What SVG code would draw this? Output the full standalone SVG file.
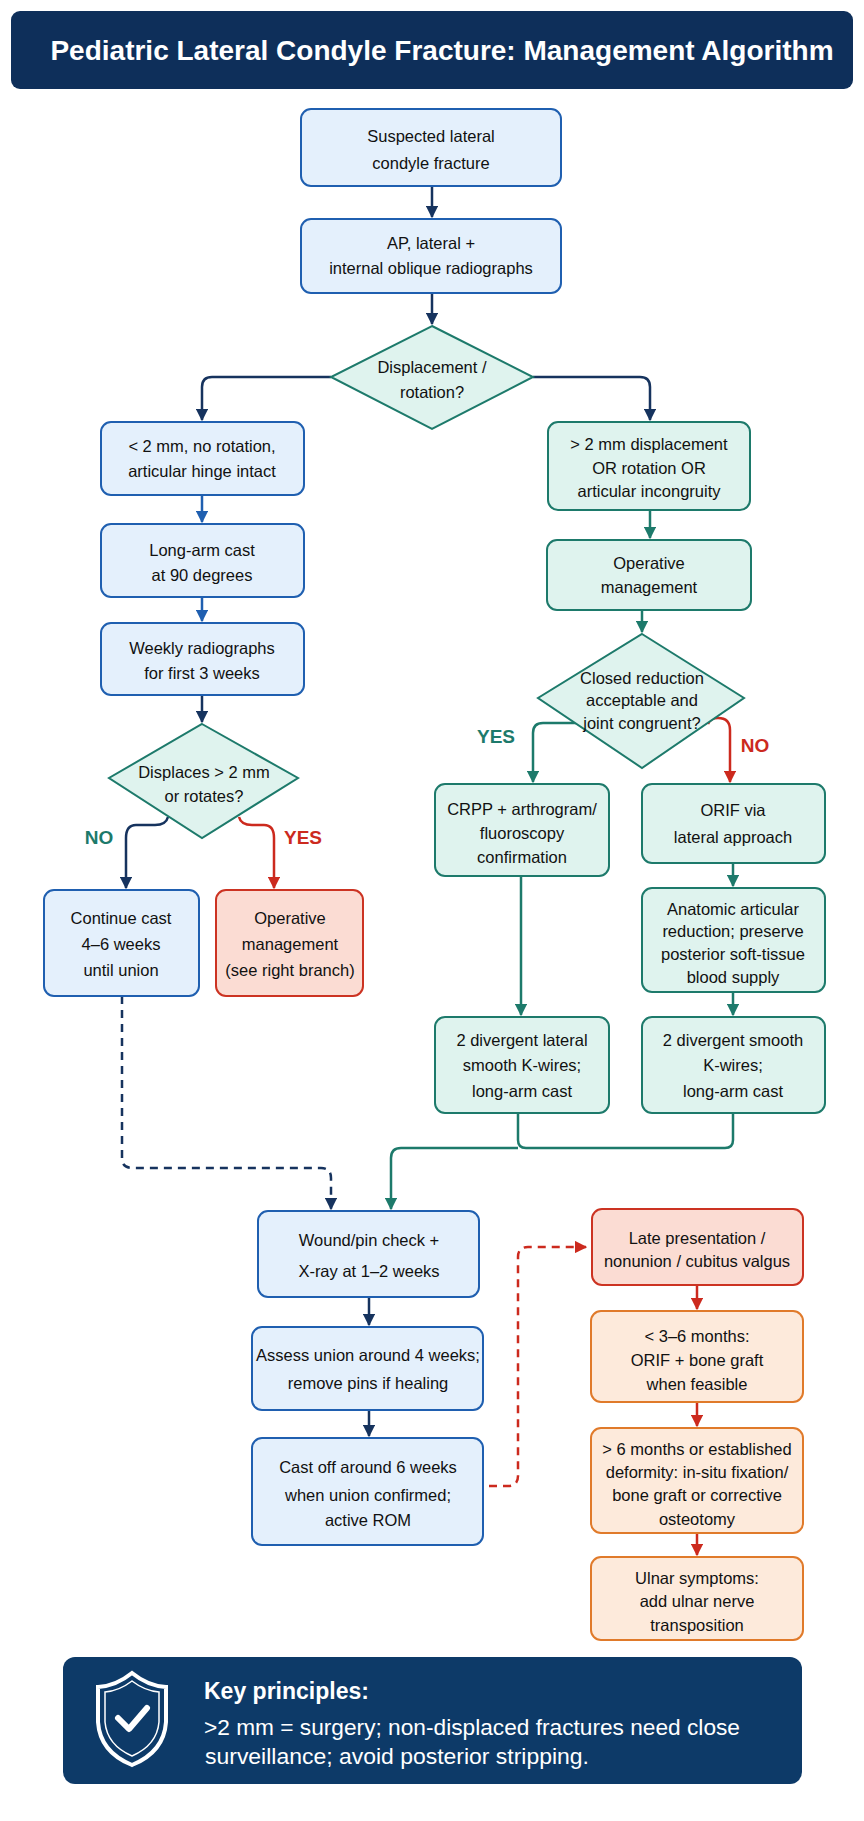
<svg xmlns="http://www.w3.org/2000/svg" width="864" height="1821" viewBox="0 0 864 1821">
<defs>
<style>
text{font-family:"Liberation Sans",Arial,sans-serif;font-size:16.5px;fill:#111;text-anchor:middle;dominant-baseline:central}
.b{fill:#e4f0fc;stroke:#1f5fb0;stroke-width:2}
.t{fill:#dff3ee;stroke:#1d7a6b;stroke-width:2}
.r{fill:#fbdcd3;stroke:#cc3322;stroke-width:2}
.o{fill:#fdeadb;stroke:#e07a2a;stroke-width:2}
.c{fill:none;stroke-width:2.5}
.nv{stroke:#16335e}.bl{stroke:#1f5fb0}.tl{stroke:#1d7a6b}.rd{stroke:#cc2a1e}
.lbl{font-weight:bold;font-size:19px}
</style>
<marker id="an" viewBox="0 0 10 10" refX="9" refY="5" markerWidth="5" markerHeight="5" orient="auto"><path d="M0,0L10,5L0,10z" fill="#16335e"/></marker>
<marker id="ab" viewBox="0 0 10 10" refX="9" refY="5" markerWidth="5" markerHeight="5" orient="auto"><path d="M0,0L10,5L0,10z" fill="#1f5fb0"/></marker>
<marker id="at" viewBox="0 0 10 10" refX="9" refY="5" markerWidth="5" markerHeight="5" orient="auto"><path d="M0,0L10,5L0,10z" fill="#1d7a6b"/></marker>
<marker id="ar" viewBox="0 0 10 10" refX="9" refY="5" markerWidth="5" markerHeight="5" orient="auto"><path d="M0,0L10,5L0,10z" fill="#cc2a1e"/></marker>
</defs>
<rect width="864" height="1821" fill="#fff"/>
<g id="title"><rect x="11" y="11" width="842" height="78" rx="9" fill="#0e2f5a"/>
<text x="442" y="50" style="font-size:28px;font-weight:bold;fill:#fff">Pediatric Lateral Condyle Fracture: Management Algorithm</text></g>

<g id="connectors">
<path class="c nv" d="M432,186V217" marker-end="url(#an)"/>
<path class="c nv" d="M432,293V324" marker-end="url(#an)"/>
<path class="c nv" d="M331,377H212Q202,377 202,387V420" marker-end="url(#an)"/>
<path class="c nv" d="M533,377H640Q650,377 650,387V420" marker-end="url(#an)"/>
<path class="c bl" d="M202,495V522" marker-end="url(#ab)"/>
<path class="c bl" d="M202,597V621" marker-end="url(#ab)"/>
<path class="c nv" d="M202,695V722" marker-end="url(#an)"/>
<path class="c nv" d="M168,817Q166,825 155,825H136Q126,825 126,838V888" marker-end="url(#an)"/>
<path class="c rd" d="M239,817Q241,825 252,825H264Q274,825 274,838V888" marker-end="url(#ar)"/>
<path class="c tl" d="M650,510V538" marker-end="url(#at)"/>
<path class="c tl" d="M642,610V632" marker-end="url(#at)"/>
<path class="c tl" d="M576,723H543Q533,723 533,733V782" marker-end="url(#at)"/>
<path class="c rd" d="M708,724Q710,718 718,718Q730,718 730,730V782" marker-end="url(#ar)"/>
<path class="c tl" d="M521,876V1015" marker-end="url(#at)"/>
<path class="c tl" d="M733,863V886" marker-end="url(#at)"/>
<path class="c tl" d="M733,992V1015" marker-end="url(#at)"/>
<path class="c tl" d="M518,1113V1140Q518,1148 526,1148H725Q733,1148 733,1140V1113"/>
<path class="c tl" d="M518,1148H401Q391,1148 391,1158V1209" marker-end="url(#at)"/>
<path class="c nv" d="M122,996V1158Q122,1168 132,1168H321Q331,1168 331,1178V1209" stroke-dasharray="8,6" marker-end="url(#an)"/>
<path class="c nv" d="M369,1297V1325" marker-end="url(#an)"/>
<path class="c nv" d="M369,1410V1436" marker-end="url(#an)"/>
<path class="c rd" d="M489,1486H508Q518,1486 518,1476V1257Q518,1247 528,1247H586" stroke-dasharray="8,6" marker-end="url(#ar)"/>
<path class="c rd" d="M697,1285V1309" marker-end="url(#ar)"/>
<path class="c rd" d="M697,1402V1426" marker-end="url(#ar)"/>
<path class="c rd" d="M697,1533V1555" marker-end="url(#ar)"/>
</g>

<g id="n1"><rect class="b" x="301" y="109" width="260" height="77" rx="10"/><text x="431" y="136">Suspected lateral</text><text x="431" y="163">condyle fracture</text></g>
<g id="n2"><rect class="b" x="301" y="219" width="260" height="74" rx="10"/><text x="431" y="243">AP, lateral +</text><text x="431" y="268">internal oblique radiographs</text></g>
<g id="d1"><polygon class="t" points="432,326 533,377 432,429 331,377"/><text x="432" y="367">Displacement /</text><text x="432" y="392">rotation?</text></g>
<g id="l1"><rect class="b" x="101" y="422" width="203" height="73" rx="10"/><text x="202" y="446">&lt; 2 mm, no rotation,</text><text x="202" y="471">articular hinge intact</text></g>
<g id="r1"><rect class="t" x="548" y="422" width="202" height="88" rx="10"/><text x="649" y="444">&gt; 2 mm displacement</text><text x="649" y="468">OR rotation OR</text><text x="649" y="491">articular incongruity</text></g>
<g id="l2"><rect class="b" x="101" y="524" width="203" height="73" rx="10"/><text x="202" y="550">Long-arm cast</text><text x="202" y="575">at 90 degrees</text></g>
<g id="r2"><rect class="t" x="547" y="540" width="204" height="70" rx="10"/><text x="649" y="563">Operative</text><text x="649" y="587">management</text></g>
<g id="l3"><rect class="b" x="101" y="623" width="203" height="72" rx="10"/><text x="202" y="648">Weekly radiographs</text><text x="202" y="673">for first 3 weeks</text></g>
<g id="d2"><polygon class="t" points="202,724 298,778 202,838 109,778"/><text x="204" y="772">Displaces &gt; 2 mm</text><text x="204" y="796">or rotates?</text></g>
<text class="lbl" x="99" y="837" style="fill:#1d7a6b">NO</text>
<text class="lbl" x="303" y="837" style="fill:#cc2a1e">YES</text>
<g id="l4"><rect class="b" x="44" y="890" width="155" height="106" rx="10"/><text x="121" y="918">Continue cast</text><text x="121" y="944">4–6 weeks</text><text x="121" y="970">until union</text></g>
<g id="l5"><rect class="r" x="216" y="890" width="147" height="106" rx="10"/><text x="290" y="918">Operative</text><text x="290" y="944">management</text><text x="290" y="970">(see right branch)</text></g>
<g id="d3"><polygon class="t" points="642,634 744,698 642,768 538,698"/><text x="642" y="678">Closed reduction</text><text x="642" y="700">acceptable and</text><text x="642" y="723">joint congruent?</text></g>
<text class="lbl" x="496" y="736" style="fill:#1d7a6b">YES</text>
<text class="lbl" x="755" y="745" style="fill:#cc2a1e">NO</text>
<g id="r3"><rect class="t" x="435" y="784" width="174" height="92" rx="10"/><text x="522" y="809">CRPP + arthrogram/</text><text x="522" y="833">fluoroscopy</text><text x="522" y="857">confirmation</text></g>
<g id="r4"><rect class="t" x="642" y="784" width="183" height="79" rx="10"/><text x="733" y="810">ORIF via</text><text x="733" y="837">lateral approach</text></g>
<g id="r5"><rect class="t" x="642" y="888" width="183" height="104" rx="10"/><text x="733" y="909">Anatomic articular</text><text x="733" y="931">reduction; preserve</text><text x="733" y="954">posterior soft-tissue</text><text x="733" y="977">blood supply</text></g>
<g id="r6"><rect class="t" x="435" y="1017" width="174" height="96" rx="10"/><text x="522" y="1040">2 divergent lateral</text><text x="522" y="1065">smooth K-wires;</text><text x="522" y="1091">long-arm cast</text></g>
<g id="r7"><rect class="t" x="642" y="1017" width="183" height="96" rx="10"/><text x="733" y="1040">2 divergent smooth</text><text x="733" y="1065">K-wires;</text><text x="733" y="1091">long-arm cast</text></g>
<g id="w"><rect class="b" x="258" y="1211" width="221" height="86" rx="10"/><text x="369" y="1240">Wound/pin check +</text><text x="369" y="1271">X-ray at 1–2 weeks</text></g>
<g id="a"><rect class="b" x="252" y="1327" width="231" height="83" rx="10"/><text x="368" y="1355">Assess union around 4 weeks;</text><text x="368" y="1383">remove pins if healing</text></g>
<g id="c"><rect class="b" x="252" y="1438" width="231" height="107" rx="10"/><text x="368" y="1467">Cast off around 6 weeks</text><text x="368" y="1495">when union confirmed;</text><text x="368" y="1520">active ROM</text></g>
<g id="late"><rect class="r" x="592" y="1209" width="211" height="76" rx="10"/><text x="697" y="1238">Late presentation /</text><text x="697" y="1261">nonunion / cubitus valgus</text></g>
<g id="o1"><rect class="o" x="591" y="1311" width="212" height="91" rx="10"/><text x="697" y="1336">&lt; 3–6 months:</text><text x="697" y="1360">ORIF + bone graft</text><text x="697" y="1384">when feasible</text></g>
<g id="o2"><rect class="o" x="591" y="1428" width="212" height="105" rx="10"/><text x="697" y="1449">&gt; 6 months or established</text><text x="697" y="1472">deformity: in-situ fixation/</text><text x="697" y="1495">bone graft or corrective</text><text x="697" y="1519">osteotomy</text></g>
<g id="o3"><rect class="o" x="591" y="1557" width="212" height="83" rx="10"/><text x="697" y="1578">Ulnar symptoms:</text><text x="697" y="1601">add ulnar nerve</text><text x="697" y="1625">transposition</text></g>
<g id="key"><rect x="63" y="1657" width="739" height="127" rx="12" fill="#0d3a68"/>
<path d="M132,1673Q148,1686 166,1687V1722Q164,1752 132,1765Q100,1752 98,1722V1687Q116,1686 132,1673Z" fill="none" stroke="#fff" stroke-width="4"/>
<path d="M132,1681Q145,1691 159,1692V1722Q157,1745 132,1756Q107,1745 105,1722V1692Q119,1691 132,1681Z" fill="#0d3a68" stroke="#fff" stroke-width="1.5"/>
<path d="M118,1718L129,1729L147,1708" fill="none" stroke="#fff" stroke-width="6" stroke-linecap="round" stroke-linejoin="round"/>
<text x="204" y="1691" style="fill:#fff;font-size:23px;font-weight:bold;text-anchor:start">Key principles:</text>
<text x="204" y="1727" style="fill:#fff;font-size:22px;text-anchor:start" textLength="536" lengthAdjust="spacingAndGlyphs">&gt;2 mm = surgery; non-displaced fractures need close</text>
<text x="205" y="1756" style="fill:#fff;font-size:22px;text-anchor:start" textLength="384" lengthAdjust="spacingAndGlyphs">surveillance; avoid posterior stripping.</text></g>
</svg>
